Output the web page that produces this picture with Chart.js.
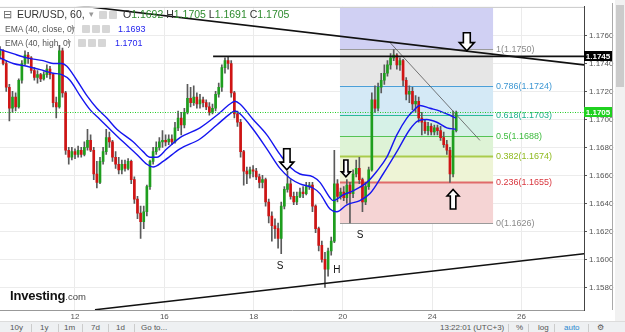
<!DOCTYPE html>
<html lang="en">
<head>
<meta charset="UTF-8">
<title>EUR/USD, 60</title>
<script src="https://cdn.jsdelivr.net/npm/chart.js"></script>
<style>
  html, body { margin: 0; padding: 0; background: #fff; }
  body { width: 625px; height: 332px; overflow: hidden; position: relative;
         font-family: "Liberation Sans", Arial, sans-serif; }
  #wrap { position: absolute; left: 0; top: 0; width: 625px; height: 322px; }
  .t { position: absolute; white-space: nowrap; }
  .ic { position: absolute; width: 8px; height: 8px; background: #d6d6d6; border-radius: 1px; }
  .g { color: #2e8b2e; }
  .bar { position: absolute; left: 0; top: 321px; width: 625px; height: 11px;
         background: #eef0f2; border-top: 1px solid #dcdcdc; }
  .bar span { position: absolute; top: 1px; font-size: 8px; color: #555; white-space: nowrap; }
  .bar i { position: absolute; top: 2px; width: 1px; height: 8px; background: #ccc; }
</style>
</head>
<body>
<div id="wrap"><canvas id="chart" width="625" height="322"></canvas></div>

<!-- legend -->
<div class="t" style="left:3px;top:8px;font-size:11px;color:#666;">&#8863;</div>
<div class="t" style="left:17px;top:8px;font-size:10.5px;color:#333;">EUR/USD, 60,</div>
<div class="t" style="left:89px;top:9px;font-size:9px;color:#999;">&#9662;</div>
<div class="ic" style="left:99px;top:11px;"></div>
<div class="ic" style="left:109px;top:11px;"></div>
<div class="t" style="left:123px;top:8px;font-size:10.5px;color:#333;">O<span class="g">1.1692</span> H<span class="g">1.1705</span> L<span class="g">1.1691</span> C<span class="g">1.1705</span></div>

<div class="t" style="left:5px;top:24px;font-size:8.5px;color:#555;">EMA (40, close, 0)</div>
<div class="t" style="left:71px;top:24px;font-size:8px;color:#999;">&#9662;</div>
<div class="ic" style="left:82px;top:25px;"></div>
<div class="ic" style="left:92px;top:25px;"></div>
<div class="ic" style="left:102px;top:25px;"></div>
<div class="t" style="left:118px;top:24px;font-size:9px;color:#2525ee;">1.1693</div>

<div class="t" style="left:5px;top:38px;font-size:8.5px;color:#555;">EMA (40, high, 0)</div>
<div class="t" style="left:67px;top:38px;font-size:8px;color:#999;">&#9662;</div>
<div class="ic" style="left:78px;top:39px;"></div>
<div class="ic" style="left:88px;top:39px;"></div>
<div class="ic" style="left:98px;top:39px;"></div>
<div class="t" style="left:115px;top:38px;font-size:9px;color:#2525ee;">1.1701</div>

<!-- logo -->
<div class="t" style="left:10px;top:286px;color:#111;"><b style="font-size:13px;letter-spacing:-0.2px;">Investing</b><span style="font-size:9.5px;color:#444;">.com</span></div>

<!-- right frame + scrollbar -->
<div style="position:absolute;left:612px;top:3px;width:1px;height:307px;background:#aaa;"></div>
<div style="position:absolute;left:615px;top:0;width:10px;height:321px;background:#f1f1f1;"></div>
<div style="position:absolute;left:616px;top:5px;width:8px;height:82px;background:#cbcbcb;"></div>

<!-- bottom toolbar -->
<div class="bar">
  <span style="left:10px;">10y</span><i style="left:31px;"></i>
  <span style="left:40px;">1y</span><i style="left:58px;"></i>
  <span style="left:64px;">1m</span><i style="left:82px;"></i>
  <span style="left:91px;">7d</span><i style="left:108px;"></i>
  <span style="left:116px;">1d</span><i style="left:134px;"></i>
  <span style="left:141px;">Go to...</span>
  <span style="left:440px;">13:22:01 (UTC+3)</span><i style="left:508px;"></i>
  <span style="left:516px;">%</span><i style="left:528px;"></i>
  <span style="left:538px;">log</span><i style="left:554px;"></i>
  <span style="left:564px;color:#2a88d0;">auto</span><i style="left:588px;"></i>
  <span style="left:597px;">&#9881;</span>
</div>

<script>
// ---- data (2-hour candles, x = candle number) ----
const opens = [
  1.1746,1.1749,1.1740,1.1723,1.1708,1.1716,1.1709,1.1728,1.1740,1.1746,
  1.1744,1.1735,1.1730,1.1732,1.1729,1.1732,1.1736,1.1732,1.1712,1.1709,
  1.1749,1.1719,1.1678,1.1673,1.1677,1.1675,1.1678,1.1675,1.1680,1.1685,
  1.1678,1.1661,1.1655,1.1670,1.1677,1.1687,1.1684,1.1673,1.1668,1.1664,
  1.1668,1.1665,1.1670,1.1657,1.1643,1.1633,1.1627,1.1634,1.1652,1.1670,
  1.1677,1.1680,1.1684,1.1685,1.1684,1.1686,1.1684,1.1694,1.1701,1.1696,
  1.1705,1.1715,1.1712,1.1716,1.1711,1.1714,1.1712,1.1709,1.1705,1.1708,
  1.1718,1.1723,1.1737,1.1742,1.1740,1.1719,1.1704,1.1698,1.1677,1.1663,
  1.1661,1.1664,1.1663,1.1659,1.1655,1.1657,1.1641,1.1631,1.1624,1.1622,
  1.1615,1.1638,1.1650,1.1654,1.1645,1.1641,1.1645,1.1648,1.1647,1.1652,
  1.1653,1.1638,1.1622,1.1610,1.1600,1.1593,1.1606,1.1613,1.1654,1.1645,
  1.1648,1.1644,1.1653,1.1647,1.1661,1.1665,1.1657,1.1641,1.1652,1.1664,
  1.1714,1.1708,1.1723,1.1728,1.1733,1.1739,1.1744,1.1746,1.1739,1.1742,
  1.1728,1.1718,1.1720,1.1711,1.1713,1.1701,1.1698,1.1692,1.1695,1.1691,
  1.1694,1.1692,1.1687,1.1682,1.1678,1.1661,1.1692
];
const highs = [
  1.1752,1.1750,1.1742,1.1725,1.1720,1.1719,1.1729,1.1742,1.1749,1.1748,
  1.1745,1.1737,1.1735,1.1733,1.1734,1.1739,1.1738,1.1733,1.1716,1.1753,
  1.1751,1.1720,1.1680,1.1680,1.1679,1.1681,1.1680,1.1684,1.1693,1.1689,
  1.1680,1.1670,1.1673,1.1680,1.1693,1.1691,1.1685,1.1677,1.1673,1.1671,
  1.1671,1.1672,1.1671,1.1659,1.1645,1.1638,1.1638,1.1653,1.1671,1.1680,
  1.1684,1.1687,1.1692,1.1689,1.1689,1.1689,1.1698,1.1706,1.1705,1.1708,
  1.1725,1.1723,1.1724,1.1719,1.1718,1.1716,1.1714,1.1712,1.1711,1.1720,
  1.1726,1.1739,1.1744,1.1745,1.1742,1.1720,1.1706,1.1700,1.1678,1.1666,
  1.1666,1.1667,1.1665,1.1661,1.1660,1.1658,1.1643,1.1634,1.1629,1.1626,
  1.1641,1.1652,1.1663,1.1657,1.1648,1.1648,1.1651,1.1652,1.1655,1.1655,
  1.1655,1.1639,1.1623,1.1613,1.1605,1.1608,1.1616,1.1678,1.1657,1.1651,
  1.1652,1.1657,1.1655,1.1664,1.1671,1.1673,1.1658,1.1655,1.1666,1.1719,
  1.1724,1.1726,1.1733,1.1739,1.1742,1.1747,1.1750,1.1747,1.1744,1.1743,
  1.1730,1.1724,1.1723,1.1717,1.1716,1.1705,1.1700,1.1698,1.1697,1.1696,
  1.1696,1.1695,1.1691,1.1685,1.1680,1.1706,1.1706
];
const lows = [
  1.1743,1.1739,1.1720,1.1699,1.1705,1.1706,1.1708,1.1726,1.1739,1.1740,
  1.1733,1.1728,1.1726,1.1727,1.1728,1.1730,1.1729,1.1709,1.1701,1.1708,
  1.1716,1.1675,1.1668,1.1671,1.1672,1.1673,1.1673,1.1674,1.1678,1.1677,
  1.1657,1.1651,1.1654,1.1668,1.1675,1.1680,1.1670,1.1665,1.1661,1.1661,
  1.1663,1.1664,1.1654,1.1640,1.1629,1.1615,1.1622,1.1631,1.1650,1.1668,
  1.1675,1.1678,1.1680,1.1681,1.1682,1.1682,1.1683,1.1692,1.1689,1.1694,
  1.1704,1.1709,1.1710,1.1708,1.1708,1.1709,1.1707,1.1703,1.1704,1.1706,
  1.1716,1.1720,1.1733,1.1736,1.1716,1.1701,1.1695,1.1673,1.1653,1.1654,
  1.1658,1.1659,1.1657,1.1651,1.1651,1.1638,1.1626,1.1613,1.1615,1.1608,
  1.1604,1.1636,1.1648,1.1643,1.1639,1.1639,1.1644,1.1644,1.1646,1.1650,
  1.1634,1.1619,1.1606,1.1598,1.1580,1.1588,1.1603,1.1612,1.1641,1.1643,
  1.1642,1.1640,1.1626,1.1644,1.1659,1.1654,1.1634,1.1639,1.1650,1.1663,
  1.1705,1.1706,1.1719,1.1725,1.1731,1.1736,1.1742,1.1736,1.1735,1.1724,
  1.1714,1.1712,1.1707,1.1705,1.1698,1.1689,1.1690,1.1689,1.1689,1.1689,
  1.1689,1.1685,1.1680,1.1675,1.1655,1.1659,1.1691
];
const closes = [
  1.1749,1.1740,1.1723,1.1708,1.1716,1.1709,1.1728,1.1740,1.1746,1.1744,
  1.1735,1.1730,1.1732,1.1729,1.1732,1.1736,1.1732,1.1712,1.1709,1.1749,
  1.1719,1.1678,1.1673,1.1677,1.1675,1.1678,1.1675,1.1680,1.1685,1.1678,
  1.1661,1.1655,1.1670,1.1677,1.1687,1.1684,1.1673,1.1668,1.1664,1.1668,
  1.1665,1.1670,1.1657,1.1643,1.1633,1.1627,1.1634,1.1652,1.1670,1.1677,
  1.1680,1.1684,1.1685,1.1684,1.1686,1.1684,1.1694,1.1701,1.1696,1.1705,
  1.1715,1.1712,1.1716,1.1711,1.1714,1.1712,1.1709,1.1705,1.1708,1.1718,
  1.1723,1.1737,1.1742,1.1740,1.1719,1.1704,1.1698,1.1677,1.1663,1.1661,
  1.1664,1.1663,1.1659,1.1655,1.1657,1.1641,1.1631,1.1624,1.1622,1.1615,
  1.1638,1.1650,1.1654,1.1645,1.1641,1.1645,1.1648,1.1647,1.1652,1.1653,
  1.1638,1.1622,1.1610,1.1600,1.1593,1.1606,1.1613,1.1654,1.1645,1.1648,
  1.1644,1.1653,1.1647,1.1661,1.1665,1.1657,1.1641,1.1652,1.1664,1.1714,
  1.1708,1.1723,1.1728,1.1733,1.1739,1.1744,1.1746,1.1739,1.1742,1.1728,
  1.1718,1.1720,1.1711,1.1713,1.1701,1.1698,1.1692,1.1695,1.1691,1.1694,
  1.1692,1.1687,1.1682,1.1678,1.1661,1.1692,1.1705
];

// EMA(40, close) and EMA(40, high)
const emaCloseX = [0,4.2,8.6,13.8,17,19.8,22.4,25.6,28.8,32,35.2,39.4,43.8,47,49,52.2,57.6,64,69.4,73.6,75.2,76.8,81,85.4,89.6,92.8,96,100.2,102.4,105.6,107.8,111,115.2,118.4,122.6,127,131.2,133.8,136.6,139.8,143,145.9];
const emaCloseY = [1.1744,1.1740,1.1738,1.1735,1.1733,1.1732,1.1728,1.1717,1.1707,1.1700,1.1693,1.1684,1.1675,1.1668,1.1666,1.1670,1.1679,1.1686,1.1696,1.1704,1.1706,1.1704,1.1693,1.1679,1.1665,1.1658,1.1654,1.1651,1.1647,1.1636,1.1634,1.1639,1.1642,1.1647,1.1661,1.1677,1.1693,1.1699,1.1700,1.1698,1.1694,1.1693];
const emaHighX = [0,4.2,8.6,13.8,17,19.8,21.4,24.6,27.8,31,34.2,37.4,42.6,45.8,48,50.2,53.4,57.6,64,69.4,73.6,75.2,76.8,81,85.4,89.6,92.8,96,100.2,102.4,105.6,106.6,109.8,113,117.4,120.6,123.8,127,130.2,132.2,134.4,137.6,140.8,144,145.9];
const emaHighY = [1.1750,1.1747,1.1744,1.1742,1.1740,1.1740,1.1738,1.1728,1.1717,1.1708,1.1701,1.1693,1.1684,1.1677,1.1673,1.1673,1.1679,1.1687,1.1694,1.1703,1.1711,1.1713,1.1711,1.1700,1.1689,1.1675,1.1666,1.1661,1.1659,1.1655,1.1644,1.1642,1.1646,1.1649,1.1655,1.1663,1.1673,1.1689,1.1701,1.1706,1.1710,1.1708,1.1706,1.1703,1.1701];

// axes
const dayTickPos = [24, 52.6, 81.2, 109.7, 138.3, 166.9];
const dayLabels = ['12', '16', '18', '20', '24', '26'];
const priceTicks = [1.158, 1.160, 1.162, 1.164, 1.166, 1.168, 1.170, 1.172, 1.174, 1.176];
const xMin = 0, xMax = 186.9;
const yMin = 1.15638, yMax = 1.17805;

// drawings
const topTrendX = [18.9, 186.9], topTrendY = [1.1783, 1.1739];
const levelX = [68.2, 186.9], levelY = [1.1745, 1.1745];
const supportX = [30.4, 186.9], supportY = [1.1564, 1.1604];
const swingX = [124.8, 153.6], swingY = [1.1755, 1.1685];

const fibRatios = ['0', '0.236', '0.382', '0.5', '0.618', '0.786', '1'];
const fibPrices = [1.1626, 1.1655, 1.1674, 1.1688, 1.1703, 1.1724, 1.1750];
const fibFrom = 108.8, fibTo = 157.8;

const arrowX = [91.8, 110.7, 149.4, 145.0];
const arrowTip = [1.1664, 1.1659, 1.1749, 1.1650];
const arrowTail = [1.1679, 1.1671, 1.1762, 1.1636];

const patternText = ['S', 'H', 'S'];
const patternX = [89.6, 107.8, 115.2];
const patternY = [1.1595, 1.1592, 1.1617];

const lastPrice = 1.1705;
const levelPrice = 1.1745;

// ---- styles ----
const GREEN = '#1e9e1e', RED = '#d01414', WICK = '#5a5a5a', EMA_BLUE = '#1616f0';
const FIB_FILL = ['#f5d4d4', '#eef4d6', '#def3d6', '#d6f1e7', '#d4e9f6', '#e6e6e6', '#d0d0f3'];
const FIB_LINE = ['#9a9a9a', '#e06a6a', '#a9cc4c', '#55c455', '#2bb99b', '#4b9fd8', '#9a9a9a'];
const FIB_TEXT = ['#8a8a8a', '#d9363e', '#8fba1f', '#3dbb3d', '#1fae8c', '#3d97d3', '#8a8a8a'];
const ARROW_W = [14, 9, 15, 12];
const FONT = '"Liberation Sans", Arial, sans-serif';

Chart.defaults.font.family = FONT;

const idx = closes.map((_, i) => i);
const isUp = i => closes[i] >= opens[i];
const pts = (xs, ys) => xs.map((x, i) => ({ x, y: ys[i] }));

function drawArrow(ctx, cx, tipY, tailY, w) {
  const dir = tipY > tailY ? 1 : -1;
  const hw = w / 2, sw = w * 0.23, head = w * 0.55;
  const neck = tipY - dir * head;
  ctx.beginPath();
  ctx.moveTo(cx - sw, tailY);
  ctx.lineTo(cx + sw, tailY);
  ctx.lineTo(cx + sw, neck);
  ctx.lineTo(cx + hw, neck);
  ctx.lineTo(cx, tipY);
  ctx.lineTo(cx - hw, neck);
  ctx.lineTo(cx - sw, neck);
  ctx.closePath();
  ctx.fillStyle = '#fff';
  ctx.fill();
  ctx.lineWidth = 1.6;
  ctx.strokeStyle = '#000';
  ctx.stroke();
}

function priceBox(ctx, a, py, bg, text) {
  ctx.fillStyle = bg;
  ctx.fillRect(a.right, py - 5, 28, 10);
  ctx.fillStyle = '#fff';
  ctx.font = 'bold 8px ' + FONT;
  ctx.textAlign = 'center';
  ctx.textBaseline = 'middle';
  ctx.fillText(text, a.right + 14, py + 0.5);
}

const overlay = {
  id: 'overlay',
  beforeDatasetsDraw(chart) {
    const { ctx, chartArea: a, scales: { x, y } } = chart;
    const x1 = x.getPixelForValue(fibFrom), x2 = x.getPixelForValue(fibTo);
    ctx.save();
    ctx.beginPath(); ctx.rect(a.left, a.top, a.width, a.height); ctx.clip();
    fibPrices.forEach((p, k) => {
      const top = k < fibPrices.length - 1 ? y.getPixelForValue(fibPrices[k + 1]) : a.top;
      const bot = y.getPixelForValue(p);
      ctx.fillStyle = FIB_FILL[k];
      ctx.fillRect(x1, top, x2 - x1, bot - top);
    });
    fibPrices.forEach((p, k) => {
      const py = Math.round(y.getPixelForValue(p)) + 0.5;
      ctx.strokeStyle = FIB_LINE[k];
      ctx.lineWidth = (k === 1 || k === 2) ? 2 : 1;
      ctx.beginPath(); ctx.moveTo(x1, py); ctx.lineTo(x2, py); ctx.stroke();
    });
    ctx.restore();
  },
  afterDatasetsDraw(chart) {
    const { ctx, chartArea: a, scales: { x, y } } = chart;
    ctx.save();
    ctx.beginPath(); ctx.rect(a.left, a.top, a.width, a.height); ctx.clip();

    // fib labels
    const x2 = x.getPixelForValue(fibTo);
    ctx.font = '9px ' + FONT;
    ctx.textAlign = 'left';
    ctx.textBaseline = 'middle';
    fibPrices.forEach((p, k) => {
      ctx.fillStyle = FIB_TEXT[k];
      ctx.fillText(fibRatios[k] + '(' + p.toFixed(4) + ')', x2 + 3, y.getPixelForValue(p) + 0.5);
    });

    // current price dotted line
    const py = Math.round(y.getPixelForValue(lastPrice)) + 0.5;
    ctx.strokeStyle = '#22cc22';
    ctx.lineWidth = 1;
    ctx.setLineDash([1, 1.5]);
    ctx.beginPath(); ctx.moveTo(a.left, py); ctx.lineTo(a.right, py); ctx.stroke();
    ctx.setLineDash([]);

    // arrows
    arrowX.forEach((v, k) => {
      drawArrow(ctx, x.getPixelForValue(v), y.getPixelForValue(arrowTip[k]),
                y.getPixelForValue(arrowTail[k]), ARROW_W[k]);
    });

    // S / H / S
    ctx.fillStyle = '#111';
    ctx.font = '10px ' + FONT;
    ctx.textAlign = 'center';
    patternText.forEach((t, k) => {
      ctx.fillText(t, x.getPixelForValue(patternX[k]), y.getPixelForValue(patternY[k]));
    });

    // top frame line
    ctx.strokeStyle = '#cfcfcf';
    ctx.beginPath(); ctx.moveTo(a.left, a.top + 0.5); ctx.lineTo(a.right, a.top + 0.5); ctx.stroke();
    ctx.restore();
  },
  afterDraw(chart) {
    const { ctx, chartArea: a, scales: { y } } = chart;
    ctx.save();
    priceBox(ctx, a, Math.round(y.getPixelForValue(levelPrice)), '#000', levelPrice.toFixed(4));
    priceBox(ctx, a, Math.round(y.getPixelForValue(lastPrice)), '#1fd11f', lastPrice.toFixed(4));
    ctx.restore();
  }
};

const lineDs = (data, color, width, order) => ({
  type: 'line', data, borderColor: color, borderWidth: width,
  pointRadius: 0, fill: false, order
});

new Chart(document.getElementById('chart'), {
  type: 'bar',
  data: {
    datasets: [
      {
        label: 'wick', data: idx.map(i => ({ x: i, y: [lows[i], highs[i]] })),
        backgroundColor: WICK, barThickness: 1, grouped: false, order: 4
      },
      {
        label: 'body', data: idx.map(i => ({ x: i, y: [opens[i], closes[i]] })),
        backgroundColor: c => isUp(c.dataIndex) ? GREEN : RED,
        barThickness: 2, grouped: false, minBarLength: 1, order: 3
      },
      Object.assign(lineDs(pts(emaCloseX, emaCloseY), EMA_BLUE, 1.4, 2), { cubicInterpolationMode: 'monotone' }),
      Object.assign(lineDs(pts(emaHighX, emaHighY), EMA_BLUE, 1.4, 2), { cubicInterpolationMode: 'monotone' }),
      lineDs(pts(topTrendX, topTrendY), '#111', 1.6, 1),
      lineDs(pts(levelX, levelY), '#111', 1.8, 1),
      lineDs(pts(supportX, supportY), '#111', 1.6, 1),
      lineDs(pts(swingX, swingY), '#555', 0.8, 1)
    ]
  },
  options: {
    responsive: false,
    animation: false,
    events: [],
    layout: { padding: { top: 3, left: 0, right: 0, bottom: 0 } },
    plugins: { legend: { display: false }, tooltip: { enabled: false } },
    scales: {
      x: {
        type: 'linear', min: xMin, max: xMax, offset: false,
        grid: { display: false, drawTicks: false, offset: false },
        border: { display: true, color: '#999' },
        ticks: { autoSkip: false, maxRotation: 0, padding: 2, color: '#555', font: { size: 8 },
                 callback: (v, i) => dayLabels[i] },
        afterBuildTicks: s => { s.ticks = dayTickPos.map(v => ({ value: v })); },
        afterFit: s => { s.height = 12; }
      },
      xg: {
        type: 'linear', position: 'bottom', min: xMin, max: xMax, offset: false,
        grid: { color: '#ebebeb', drawTicks: false, offset: false },
        border: { display: false },
        ticks: { display: false },
        afterBuildTicks: s => { s.ticks = dayTickPos.map(v => ({ value: v })); },
        afterFit: s => { s.height = 0; }
      },
      y: {
        position: 'right', min: yMin, max: yMax,
        grid: { color: '#ececec', tickLength: 3, tickColor: '#555' },
        border: { color: '#444' },
        ticks: { padding: 2, color: '#555', font: { size: 8 }, callback: v => v.toFixed(4) },
        afterBuildTicks: s => { s.ticks = priceTicks.map(v => ({ value: v })); },
        afterFit: s => { s.width = 41; }
      }
    }
  },
  plugins: [overlay]
});
</script>
</body>
</html>
